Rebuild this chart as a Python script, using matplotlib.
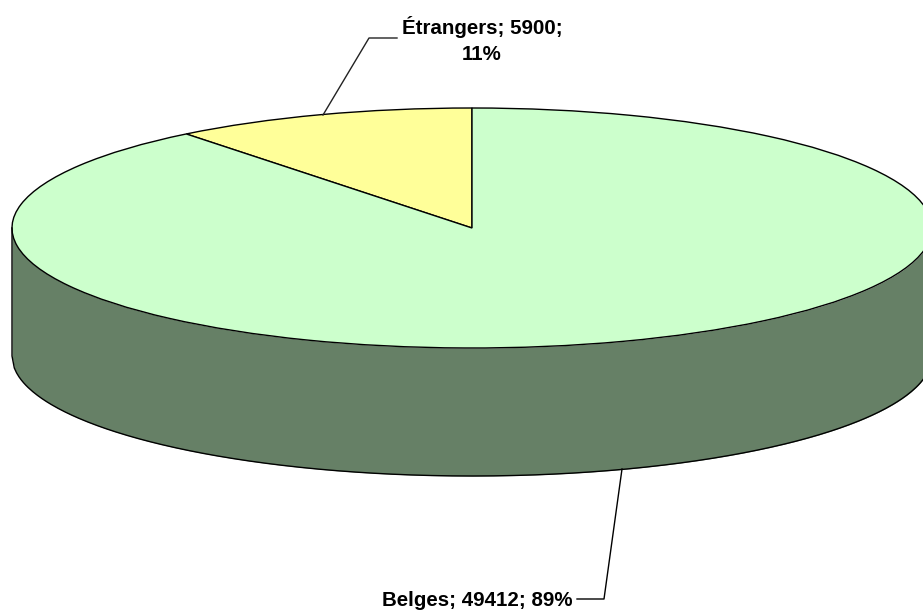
import matplotlib
matplotlib.use("Agg")
import matplotlib.pyplot as plt
import numpy as np

labels = ["Belges", "Étrangers"]
values = [49412, 5900]
percents = ["89%", "11%"]

W, H = 923, 611
CX, CY = 472, 228
RX, RY = 460, 120
DEPTH = 128 / RY

TOP_GREEN = "#CCFFCC"
SIDE_GREEN = "#668066"
TOP_YELLOW = "#FFFF99"
LW = 1.0

plt.rcParams['font.family'] = ['Liberation Sans', 'DejaVu Sans']

fig = plt.figure(figsize=(W / 100, H / 100), dpi=100)
ax = fig.add_axes([0, 0, 1, 1])

# the side of the cylinder, one outline so the corners join up
t = np.linspace(-1, 1, 400)
lower = -np.sqrt(1 - t ** 2)
ax.fill_between(t, lower, lower - DEPTH, color=SIDE_GREEN, lw=0)
ax.plot(np.r_[-1, t, 1], np.r_[0, lower - DEPTH, 0], color="black", lw=LW)

# the top face, Étrangers starts at 12 o'clock and runs counter clockwise
ax.pie(values[::-1], colors=[TOP_YELLOW, TOP_GREEN], startangle=90, counterclock=True,
       wedgeprops={"edgecolor": "black", "linewidth": LW}, radius=1)

ax.set_aspect("auto")
ax.set_xlim(-CX / RX, (W - CX) / RX)
ax.set_ylim((CY - H) / RY, CY / RY)
ax.axis("off")


def px(x, y):
    return (x - CX) / RX, (CY - y) / RY


# leader lines
ax.plot(*zip(px(323, 115), px(369, 38), px(397, 38)), color="#222222", lw=LW)
ax.plot(*zip(px(622, 469), px(604, 599), px(577, 599)), color="black", lw=LW)

fs = 14.8
ax.text(*px(482, 40), f"{labels[1]}; {values[1]};\n{percents[1]}", ha="center", va="center",
        fontsize=fs, fontweight="bold", linespacing=1.5)
ax.text(*px(477.5, 601), f"{labels[0]}; {values[0]}; {percents[0]}", ha="center", va="center",
        fontsize=fs, fontweight="bold")

fig.savefig("out.png", dpi=100)
